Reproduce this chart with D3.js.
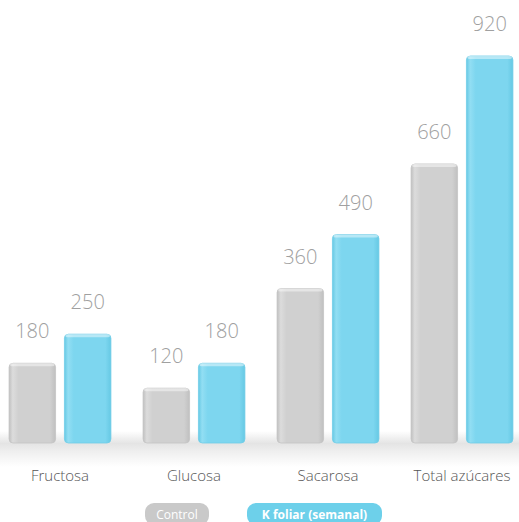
<!doctype html><html><head>
<meta charset="utf-8">
<style>
  body { margin: 0; background: #fff; }
  svg { display: block; }
</style>
</head><body><script src='https://d3js.org/d3.v7.min.js'></script>

<script>
  const categories = ["Fructosa", "Glucosa", "Sacarosa", "Total azúcares"];
  const series = ["Control", "K foliar (semanal)"];
  const controlValues = [180, 120, 360, 660];
  const kFoliarValues = [250, 180, 490, 920];

  const width = 519;
  const height = 522;

  const rows = categories.map(function(c, i) {
    return { cat: c, values: [
      { key: series[0], value: controlValues[i] },
      { key: series[1], value: kFoliarValues[i] }
    ] };
  });

  var svg = d3.select("body")
    .append("svg")
    .attr("width", width)
    .attr("height", height);

  var defs = svg.append("defs");

  // glass look for the bars
  function barGradient(id, dark, mid, light) {
    var g = defs.append("linearGradient").attr("id", id)
      .attr("x1", "0").attr("x2", "1").attr("y1", "0").attr("y2", "0");
    g.append("stop").attr("offset", "0%").attr("stop-color", dark);
    g.append("stop").attr("offset", "8%").attr("stop-color", light);
    g.append("stop").attr("offset", "20%").attr("stop-color", mid);
    g.append("stop").attr("offset", "88%").attr("stop-color", mid);
    g.append("stop").attr("offset", "100%").attr("stop-color", dark);
  }
  barGradient("gCtrl", "#c0c0c0", "#d0d0d0", "#dcdcdc");
  barGradient("gK", "#66c9e4", "#7dd6ef", "#92def3");

  var floor = defs.append("linearGradient").attr("id", "floor")
    .attr("x1", "0").attr("x2", "0").attr("y1", "0").attr("y2", "1");
  floor.append("stop").attr("offset", "0%").attr("stop-color", "#ffffff");
  floor.append("stop").attr("offset", "35%").attr("stop-color", "#e4e4e4");
  floor.append("stop").attr("offset", "55%").attr("stop-color", "#eeeeee");
  floor.append("stop").attr("offset", "100%").attr("stop-color", "#ffffff");

  var y = d3.scaleLinear()
    .domain([0, 920])
    .range([438, 56]);

  var x0 = d3.scaleBand()
    .domain(categories)
    .range([-7, 529])
    .paddingInner(0.24)
    .paddingOuter(0.12);

  var x1 = d3.scaleBand()
    .domain(series)
    .range([0, x0.bandwidth()])
    .paddingInner(0.16);

  var baseY = y(0) + 5;

  // floor shadow
  svg.append("rect")
    .attr("x", 0).attr("y", baseY - 12)
    .attr("width", width).attr("height", 36)
    .attr("fill", "url(#floor)");

  var g = svg.selectAll("g.cat")
    .data(rows)
    .enter()
    .append("g")
    .attr("class", "cat")
    .attr("transform", function(d) { return "translate(" + x0(d.cat) + ",0)"; });

  var bar = g.selectAll("g.bar")
    .data(function(d) { return d.values; })
    .enter()
    .append("g")
    .attr("class", "bar");

  bar.append("rect")
    .attr("x", function(d) { return x1(d.key); })
    .attr("y", function(d) { return y(d.value); })
    .attr("width", x1.bandwidth())
    .attr("height", function(d) { return baseY - y(d.value); })
    .attr("rx", 4)
    .attr("fill", function(d) { return d.key == series[0] ? "url(#gCtrl)" : "url(#gK)"; })
    .attr("stroke", function(d) { return d.key == series[0] ? "#c4c4c4" : "#70cde7"; })
    .attr("stroke-width", 0.8);

  // top highlight cap
  bar.append("rect")
    .attr("x", function(d) { return x1(d.key) + 1; })
    .attr("y", function(d) { return y(d.value); })
    .attr("width", x1.bandwidth() - 2)
    .attr("height", 3)
    .attr("rx", 2)
    .attr("fill", "#ffffff")
    .attr("opacity", 0.45);

  bar.append("text")
    .attr("x", function(d) { return x1(d.key) + x1.bandwidth() / 2; })
    .attr("y", function(d) { return y(d.value) - 25; })
    .style("text-anchor", "middle")
    .attr("font-family", "'Open Sans', sans-serif")
    .attr("font-weight", 300)
    .attr("font-size", "20px")
    .attr("fill", "#a0a0a0")
    .text(function(d) { return d.value; });

  svg.append("g")
    .selectAll("text")
    .data(categories)
    .enter()
    .append("text")
    .attr("x", function(d) { return x0(d) + x0.bandwidth() / 2; })
    .attr("y", 481)
    .style("text-anchor", "middle")
    .attr("font-family", "'Open Sans', sans-serif")
    .attr("font-weight", 300)
    .attr("font-size", "15px")
    .attr("fill", "#555")
    .text(function(d) { return d; });

  // legend pills
  var legend = [
    { key: series[0], x: 145, w: 64, bold: false },
    { key: series[1], x: 247, w: 135, bold: true }
  ];
  var lg = svg.selectAll("g.legend")
    .data(legend)
    .enter()
    .append("g")
    .attr("class", "legend");

  lg.append("rect")
    .attr("x", function(d) { return d.x; })
    .attr("y", 503)
    .attr("width", function(d) { return d.w; })
    .attr("height", 22)
    .attr("rx", 9)
    .attr("fill", function(d) { return d.key == series[0] ? "#c9c9c9" : "#6dd0ea"; });

  lg.append("text")
    .attr("x", function(d) { return d.x + d.w / 2; })
    .attr("y", 519)
    .style("text-anchor", "middle")
    .attr("font-family", "'Open Sans', sans-serif")
    .attr("font-weight", function(d) { return d.bold ? 700 : 400; })
    .attr("font-size", "12px")
    .attr("fill", "#fff")
    .text(function(d) { return d.key; });
</script></body></html>
